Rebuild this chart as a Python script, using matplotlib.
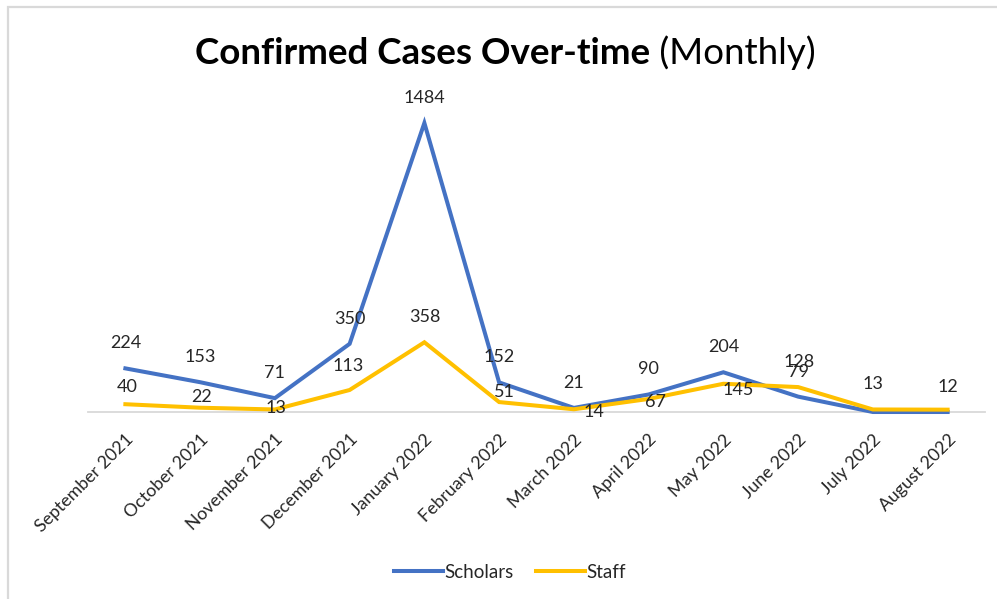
import matplotlib.pyplot as plt
from matplotlib.patches import Rectangle

# Data
months = ['September 2021', 'October 2021', 'November 2021', 'December 2021',
          'January 2022', 'February 2022', 'March 2022', 'April 2022',
          'May 2022', 'June 2022', 'July 2022', 'August 2022']
scholars = [224, 153, 71, 350, 1484, 152, 21, 90, 204, 79, 0, 0]
staff = [40, 22, 13, 113, 358, 51, 14, 67, 145, 128, 13, 12]
# which labels are shown (zero labels were removed in the original)
scholars_show = [True] * 10 + [False, False]
staff_show = [True] * 12

# label offsets in pixels (dx, dy) relative to each point
scholars_off = [(0, 25)] * 12
staff_off = [(2, 17), (1, 11), (1, 1), (-1, 24), (0, 25), (5, 10), (20, -3),
             (7, -3), (15, -6), (1, 25), (0, 25), (0, 23)]

BLUE = '#4472C4'
YELLOW = '#FFC000'
TXT = '#262626'

plt.rcParams['font.family'] = ['Lato', 'DejaVu Sans']

W, H = 997, 599
fig = plt.figure(figsize=(W / 100, H / 100), dpi=100)
fig.patch.set_facecolor('white')

# chart-area border (only top and left visible in the screenshot)
fig.patches.append(Rectangle((7.5 / W, -0.1), 1.2, (H - 7.5) / H + 0.1,
                             transform=fig.transFigure, fill=False,
                             edgecolor='#d9d9d9', linewidth=1.6))

left, right = 88, 985
bottom, top = 412, 100.4
ax = fig.add_axes([left / W, (H - bottom) / H, (right - left) / W, (bottom - top) / H])

x = list(range(len(months)))
ax.plot(x, scholars, color=BLUE, linewidth=2.9, label='Scholars',
        solid_joinstyle='miter', clip_on=False, zorder=3)
ax.plot(x, staff, color=YELLOW, linewidth=2.9, label='Staff',
        solid_joinstyle='miter', clip_on=False, zorder=4)

for i in x:
    if scholars_show[i]:
        ax.annotate(str(scholars[i]), (i, scholars[i]), xytext=scholars_off[i],
                    textcoords='offset pixels', ha='center', va='center',
                    fontsize=13, color=TXT, zorder=5)
    if staff_show[i]:
        ax.annotate(str(staff[i]), (i, staff[i]), xytext=staff_off[i],
                    textcoords='offset pixels', ha='center', va='center',
                    fontsize=13, color=TXT, zorder=5)

ax.set_xlim(-0.5, len(months) - 0.5)
ax.set_ylim(0, 1600)
ax.set_yticks([])
ax.set_xticks(x)
ax.set_xticklabels(months, rotation=45, ha='right', rotation_mode='anchor',
                   fontsize=12.8, color=TXT)
ax.tick_params(axis='x', length=0, pad=14)
for s in ['top', 'right', 'left']:
    ax.spines[s].set_visible(False)
ax.spines['bottom'].set_color('#d9d9d9')
ax.spines['bottom'].set_linewidth(1.3)
ax.spines['bottom'].set_zorder(1)

# title: bold part + regular part
t1 = fig.text(195 / W, 1 - 64 / H, 'Confirmed Cases Over-time', fontsize=26.5,
              fontweight='bold', color='black', ha='left', va='baseline')
fig.canvas.draw()
t2 = fig.text(0, 0, ' (Monthly)', fontsize=26.5, color='black')
bb = t1.get_window_extent()
t2.set_position(((bb.x1) / W, 1 - 64 / H))
t2.set_va('baseline')

ax.legend(loc='center', bbox_to_anchor=(510 / W, 1 - 572 / H),
          bbox_transform=fig.transFigure, ncol=2, frameon=False,
          fontsize=13.5, handlelength=2.6, handletextpad=0.1,
          columnspacing=1.2, labelcolor=TXT)

fig.savefig('out.png', dpi=100, facecolor='white')
